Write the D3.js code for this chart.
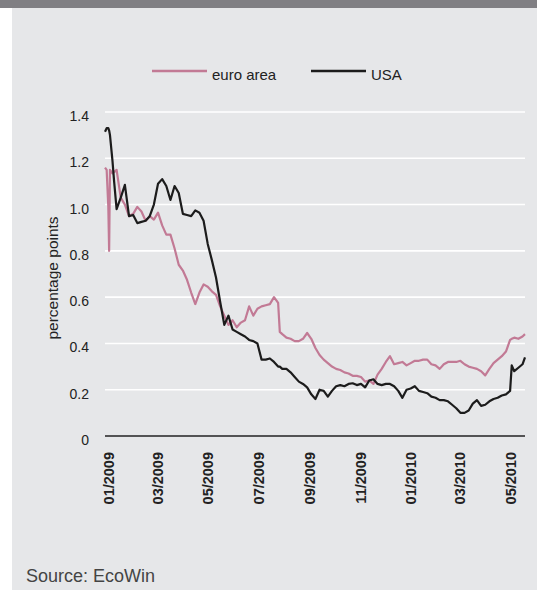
<!DOCTYPE html>
<html>
<head>
<meta charset="utf-8">
<script src="https://cdn.jsdelivr.net/npm/d3@7"></script>
<style>
  html, body { margin: 0; padding: 0; background: #ffffff; }
  svg { display: block; font-family: "Liberation Sans", Arial, Helvetica, sans-serif; }
</style>
</head>
<body>
<svg id="chart" width="537" height="590"></svg>
<script>
const dates = [
  "2008-12-28","2008-12-30","2009-01-01","2009-01-02","2009-01-03","2009-01-06","2009-01-08","2009-01-11",
  "2009-01-16","2009-01-21","2009-01-26","2009-01-31","2009-02-05","2009-02-10","2009-02-15","2009-02-20",
  "2009-02-25","2009-03-02","2009-03-07","2009-03-12","2009-03-17","2009-03-22","2009-03-27","2009-04-01",
  "2009-04-06","2009-04-11","2009-04-16","2009-04-21","2009-04-26","2009-05-01","2009-05-06","2009-05-11",
  "2009-05-16","2009-05-21","2009-05-26","2009-05-31","2009-06-05","2009-06-10","2009-06-15","2009-06-20",
  "2009-06-25","2009-06-30","2009-07-05","2009-07-10","2009-07-15","2009-07-20","2009-07-25","2009-07-27",
  "2009-07-30","2009-08-04","2009-08-09","2009-08-14","2009-08-19","2009-08-24","2009-08-29","2009-09-03",
  "2009-09-08","2009-09-13","2009-09-18","2009-09-23","2009-09-28","2009-10-03","2009-10-08","2009-10-13",
  "2009-10-18","2009-10-23","2009-10-28","2009-11-02","2009-11-07","2009-11-12","2009-11-17","2009-11-22",
  "2009-11-27","2009-12-02","2009-12-07","2009-12-12","2009-12-17","2009-12-22","2009-12-27","2010-01-01",
  "2010-01-06","2010-01-11","2010-01-16","2010-01-21","2010-01-26","2010-01-31","2010-02-05","2010-02-10",
  "2010-02-15","2010-02-20","2010-02-25","2010-03-02","2010-03-07","2010-03-12","2010-03-17","2010-03-22",
  "2010-03-27","2010-04-01","2010-04-06","2010-04-11","2010-04-16","2010-04-21","2010-04-26","2010-05-01",
  "2010-05-03","2010-05-06","2010-05-11","2010-05-16","2010-05-19"
];
const euroArea = [
  1.16,1.15,0.99,0.80,1.15,1.135,1.14,1.15,
  1.03,1.00,0.95,0.96,0.99,0.97,0.93,0.95,
  0.935,0.965,0.91,0.87,0.87,0.81,0.74,0.715,
  0.675,0.62,0.57,0.62,0.655,0.645,0.625,0.61,
  0.56,0.52,0.48,0.50,0.47,0.49,0.50,0.56,
  0.52,0.55,0.56,0.565,0.57,0.60,0.575,0.45,
  0.44,0.425,0.42,0.41,0.41,0.42,0.445,0.42,
  0.38,0.35,0.33,0.315,0.30,0.29,0.285,0.275,
  0.27,0.26,0.26,0.255,0.235,0.24,0.225,0.265,
  0.29,0.32,0.345,0.31,0.315,0.32,0.305,0.315,
  0.325,0.325,0.33,0.33,0.31,0.305,0.29,0.31,
  0.32,0.32,0.32,0.325,0.31,0.30,0.295,0.29,
  0.28,0.262,0.29,0.315,0.33,0.345,0.365,0.415,
  0.42,0.425,0.42,0.43,0.44
];
const usa = [
  1.315,1.33,1.33,1.32,1.30,1.19,1.10,0.98,
  1.03,1.085,0.95,0.955,0.92,0.925,0.93,0.95,
  1.00,1.09,1.11,1.08,1.02,1.08,1.05,0.96,
  0.955,0.95,0.975,0.965,0.93,0.83,0.76,0.685,
  0.58,0.48,0.52,0.46,0.45,0.44,0.43,0.415,
  0.41,0.40,0.33,0.33,0.335,0.32,0.30,0.30,
  0.29,0.29,0.275,0.255,0.235,0.225,0.21,0.18,
  0.16,0.20,0.195,0.17,0.195,0.215,0.22,0.215,
  0.225,0.228,0.22,0.225,0.21,0.24,0.245,0.225,
  0.22,0.225,0.225,0.215,0.195,0.165,0.20,0.205,
  0.215,0.195,0.19,0.185,0.17,0.165,0.155,0.155,
  0.15,0.135,0.12,0.10,0.10,0.11,0.14,0.155,
  0.13,0.135,0.15,0.16,0.165,0.175,0.18,0.195,
  0.305,0.28,0.295,0.31,0.34
];
const yTicks = [0, 0.2, 0.4, 0.6, 0.8, 1.0, 1.2, 1.4];
const seriesNames = ["euro area", "USA"];
const seriesColors = ["#c27a95", "#1c1c1c"];
const yTitle = "percentage points";
const sourceText = "Source: EcoWin";

const parse = d3.timeParse("%Y-%m-%d");
const parsed = dates.map(parse);

const svg = d3.select("#chart");
const W = 537, H = 590;

// background
svg.append("rect").attr("x", 0).attr("y", 0).attr("width", W).attr("height", H).attr("fill", "#ffffff");
svg.append("rect").attr("x", 12).attr("y", 8).attr("width", W - 12).attr("height", H - 8).attr("fill", "#e6e7e9");
svg.append("rect").attr("x", 0).attr("y", 0).attr("width", W).attr("height", 8).attr("fill", "#807f83");

const x = d3.scaleTime()
  .domain([parse("2008-12-28"), parse("2010-05-19")])
  .range([105, 525]);
const y = d3.scaleLinear().domain([0, 1.4]).range([436, 112]);

// gridlines
svg.append("g").selectAll("line").data(yTicks.filter(t => t > 0)).join("line")
  .attr("x1", 105).attr("x2", 525)
  .attr("y1", d => y(d)).attr("y2", d => y(d))
  .attr("stroke", "#ffffff").attr("stroke-width", 1.6);

// y axis labels
const yAxis = d3.axisLeft(y).tickValues(yTicks)
  .tickFormat(d => d === 0 ? "0" : d3.format(".1f")(d))
  .tickSize(0).tickPadding(0);
const gy = svg.append("g").attr("transform", "translate(89,0)").call(yAxis);
gy.select(".domain").remove();
gy.selectAll("text")
  .attr("font-size", 14).attr("fill", "#222").attr("dy", "0.32em")
  .attr("transform", "translate(0,4)")
  .attr("font-family", "'Liberation Sans', Arial, sans-serif");

// x axis
const xTicks = d3.timeMonth.every(2).range(parse("2009-01-01"), parse("2010-05-02"));
const xAxis = d3.axisBottom(x).tickValues(xTicks).tickFormat(d3.timeFormat("%m/%Y")).tickSize(0).tickPadding(0);
const gx = svg.append("g").attr("transform", "translate(0,436)").call(xAxis);
gx.select(".domain").remove();
gx.selectAll("text")
  .attr("font-size", 14.5).attr("font-weight", "bold").attr("fill", "#222")
  .attr("font-family", "'Liberation Sans', Arial, sans-serif")
  .attr("text-anchor", "end")
  .attr("transform", "translate(0,16) rotate(-90)")
  .attr("x", 0).attr("y", 0).attr("dy", "0.36em");

// baseline
svg.append("line").attr("x1", 105).attr("x2", 525).attr("y1", y(0)).attr("y2", y(0))
  .attr("stroke", "#222").attr("stroke-width", 1.5);

// lines
const line = d3.line().x((d, i) => x(parsed[i])).y(d => y(d));
[euroArea, usa].forEach((s, k) => {
  svg.append("path").datum(s)
    .attr("d", line)
    .attr("fill", "none")
    .attr("stroke", seriesColors[k])
    .attr("stroke-width", 2.2)
    .attr("stroke-linejoin", "round");
});

// y title
svg.append("text")
  .attr("transform", "translate(58,278) rotate(-90)")
  .attr("text-anchor", "middle")
  .attr("font-size", 15.5).attr("fill", "#222")
  .text(yTitle);

// legend
const legendX = [152, 311];
seriesNames.forEach((n, k) => {
  svg.append("line").attr("x1", legendX[k]).attr("x2", legendX[k] + 55)
    .attr("y1", 71).attr("y2", 71)
    .attr("stroke", seriesColors[k]).attr("stroke-width", 2.5);
  svg.append("text").attr("x", legendX[k] + 60).attr("y", 80)
    .attr("font-size", 15).attr("fill", "#222").text(n);
});

// source
svg.append("text").attr("x", 26).attr("y", 582)
  .attr("font-size", 18).attr("fill", "#444").text(sourceText);
</script>
</body>
</html>
